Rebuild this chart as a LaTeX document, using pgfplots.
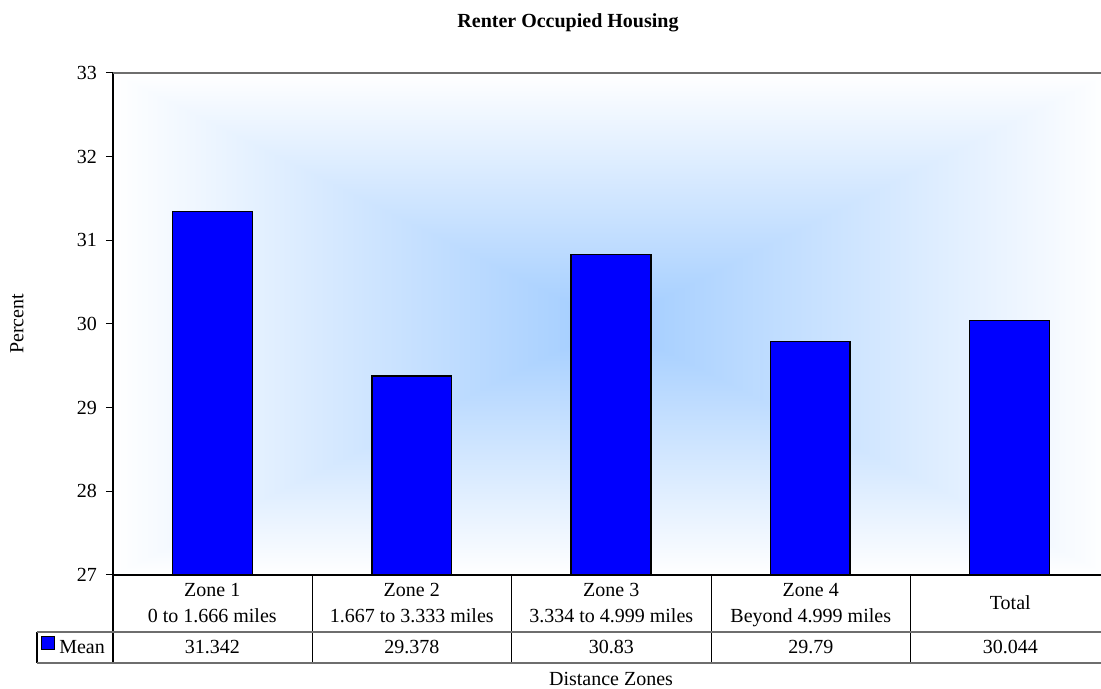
\documentclass[border=0pt]{standalone}
\usepackage{pgfplots}
\pgfplotsset{compat=1.18}
\usepackage{fontspec}
\setmainfont{Liberation Serif}
\pgfdeclarefunctionalshading{rectgrad}{\pgfpoint{-50bp}{-50bp}}{\pgfpoint{50bp}{50bp}}{}{
abs 25 div exch abs 25 div 2 copy lt {exch} if pop dup 1 gt {pop 1} if
dup 0.37 mul 0.63 add exch dup 0.2 mul 0.8 add exch pop 1
}
\definecolor{barblue}{RGB}{0,0,255}
\definecolor{gridgray}{RGB}{110,110,110}
\begin{document}
\begin{tikzpicture}[x=0.6pt,y=0.6pt]
\useasboundingbox (0,0) rectangle (1101,689);
\clip (0,0) rectangle (1101,689);
\shade[shading=rectgrad] (113,114) rectangle (1109,616);
\begin{axis}[
  at={(67.8pt,68.4pt)}, anchor=south west,
  scale only axis, width=597.6pt, height=301.2pt,
  xmin=-0.5, xmax=4.5, ymin=27, ymax=33,
  ytick={27,28,29,30,31,32,33},
  xtick=\empty,
  axis y line*=left, axis x line*=bottom,
  axis line style={black, line width=0.8pt},
  tick align=outside, major tick length=4.2pt,
  tick style={black, line width=0.6pt},
  /pgf/number format/assume math mode=true,
  yticklabel style={font=\fontsize{12}{14}\selectfont, xshift=-2pt},
  clip=true,
]
\addplot[ybar, bar width=0.4, fill=barblue, draw=black, line width=0.8pt]
  coordinates {(0,31.342) (1,29.378) (2,30.83) (3,29.79) (4,30.044)};
\end{axis}
% top border
\draw[gridgray, line width=1pt] (113,616) -- (1109,616);
% table grid
\draw[black, line width=0.8pt] (113,114) -- (113,26);
\foreach \xx in {312.5,511.5,711.5,910.5} \draw[black, line width=0.7pt] (\xx,114) -- (\xx,26);
\draw[black, line width=0.8pt] (37,57) -- (37,26);
\draw[gridgray, line width=0.8pt] (37,57) -- (1109,57);
\draw[gridgray, line width=1pt] (37,26) -- (1109,26);
% texts
\begin{scope}[every node/.style={font=\fontsize{12}{14}\selectfont, inner sep=0pt, anchor=base}]
\node at (212.25,92) {Zone 1};
\node at (212.25,66) {0 to 1.666 miles};
\node at (411.75,92) {Zone 2};
\node at (411.75,66) {1.667 to 3.333 miles};
\node at (611.25,92) {Zone 3};
\node at (611.25,66) {3.334 to 4.999 miles};
\node at (810.75,92) {Zone 4};
\node at (810.75,66) {Beyond 4.999 miles};
\node at (1010.25,79) {Total};
\node at (212.25,35) {31.342};
\node at (411.75,35) {29.378};
\node at (611.25,35) {30.83};
\node at (810.75,35) {29.79};
\node at (1010.25,35) {30.044};
\node[anchor=base west] at (59,35) {Mean};
\node at (611,3) {Distance Zones};
\node[rotate=90, anchor=center] at (17,365) {Percent};
\node[font=\fontsize{12}{14}\selectfont\bfseries] at (568,661) {Renter Occupied Housing};
\end{scope}
\draw[black, fill=barblue, line width=0.6pt] (41,52) rectangle (54,39);
\end{tikzpicture}
\end{document}
